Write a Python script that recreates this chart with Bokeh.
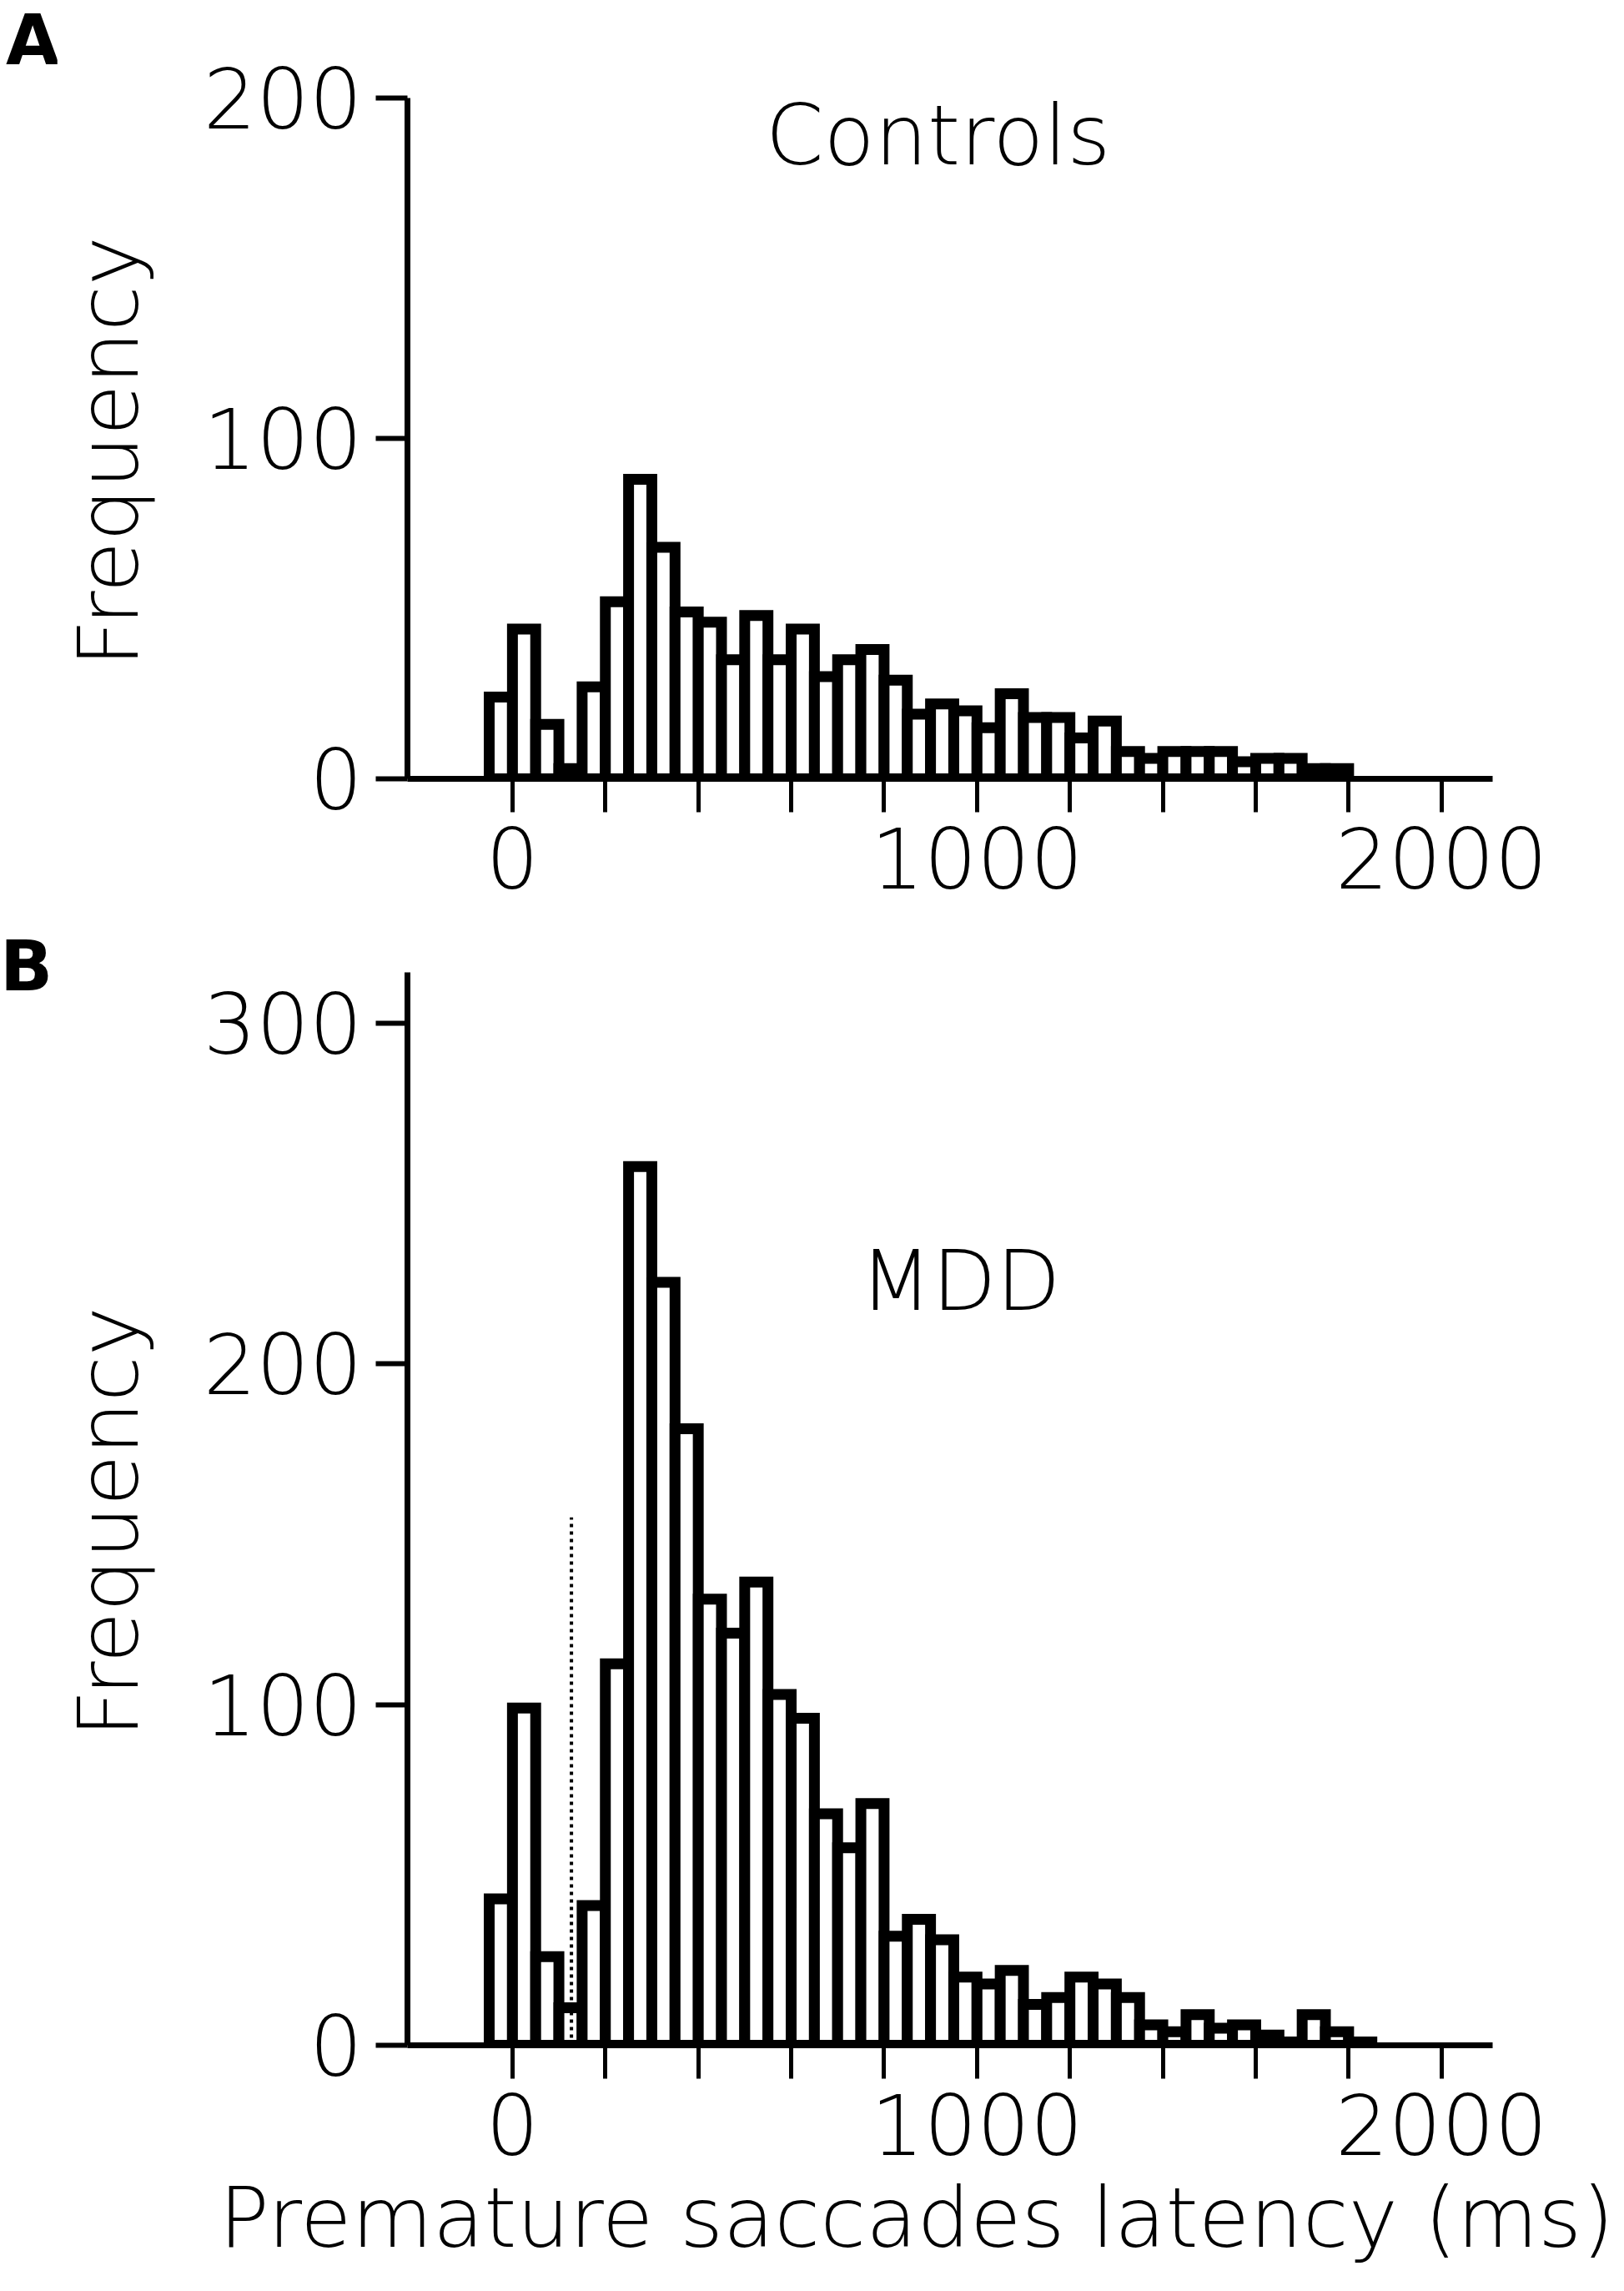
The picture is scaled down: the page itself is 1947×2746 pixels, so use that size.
from bokeh.plotting import figure
from bokeh.layouts import column, row
from bokeh.models import FixedTicker, Label, Range1d, Div, Title
from bokeh.embed import file_html
from bokeh.resources import INLINE

# ---- data ----
bin_width = 50
controls_bin_starts = list(range(-50, 1800, 50))
controls_counts = [24, 44, 16, 3, 27, 52, 88, 68, 49, 46,
                   35, 48, 35, 44, 30, 35, 38, 29, 19, 22,
                   20, 15, 25, 18, 18, 12, 17, 8, 6, 8,
                   8, 8, 5, 6, 6, 3, 3]
mdd_bin_starts = list(range(-50, 1850, 50))
mdd_counts = [43, 99, 26, 11, 41, 112, 258, 224, 181, 131,
              121, 136, 103, 96, 68, 58, 71, 32, 37, 31,
              20, 18, 22, 12, 14, 20, 18, 14, 6, 4,
              9, 5, 6, 3, 1, 9, 4, 1]
x_ticks = [0, 200, 400, 600, 800, 1000, 1200, 1400, 1600, 1800, 2000]
x_tick_labels = {t: (str(t) if t % 1000 == 0 else "") for t in x_ticks}
controls_y_ticks = [0, 100, 200]
mdd_y_ticks = [0, 100, 200, 300]
mdd_cutoff_x = 127
mdd_cutoff_top = 155
x_title = "Premature saccades latency (ms)"
y_title = "Frequency"

FONT = "DejaVu Sans"
FS = "100px"
X_RANGE = (-226, 2110)
LETTER_W = 68
PANEL_W = 1947 - LETTER_W
FRAME_LEFT = 488
FRAME_W = 1301


def letter_div(letter, height, line_height, pad_left):
    html = ('<div style="font-family:\'DejaVu Sans\'; font-size:83px; font-weight:bold; '
            'line-height:%dpx; padding-left:%dpx; color:#000; white-space:nowrap; '
            'overflow:visible; margin:0;">%s</div>' % (line_height, pad_left, letter))
    return Div(text=html, width=LETTER_W, height=height, margin=0,
               styles={"overflow": "visible"})


def make_panel(height, border_top, border_bottom, y_max, y_ticks, starts, counts):
    p = figure(width=PANEL_W, height=height, output_backend="svg", toolbar_location=None,
               title=None, x_range=Range1d(*X_RANGE), y_range=Range1d(0, y_max),
               min_border_left=FRAME_LEFT - LETTER_W,
               min_border_right=PANEL_W - (FRAME_LEFT - LETTER_W) - FRAME_W,
               min_border_top=border_top, min_border_bottom=border_bottom)
    p.outline_line_color = None
    p.xgrid.visible = False
    p.ygrid.visible = False
    p.background_fill_color = "white"
    p.border_fill_color = "white"

    p.quad(left=starts, right=[s + bin_width for s in starts], top=counts, bottom=0,
           fill_color="white", line_color="black", line_width=13, line_join="miter")

    xa = p.xaxis[0]
    xa.ticker = FixedTicker(ticks=x_ticks)
    xa.major_label_overrides = x_tick_labels
    xa.minor_tick_line_color = None
    xa.axis_line_width = 7
    xa.axis_line_color = "black"
    xa.major_tick_line_width = 5
    xa.major_tick_line_color = "black"
    xa.major_tick_out = 40
    xa.major_tick_in = 0
    xa.major_label_standoff = 18
    xa.major_label_text_font = FONT
    xa.major_label_text_font_size = FS
    xa.major_label_text_color = "black"

    ya = p.yaxis[0]
    ya.ticker = FixedTicker(ticks=y_ticks)
    ya.minor_tick_line_color = None
    ya.axis_line_width = 7
    ya.axis_line_color = "black"
    ya.major_tick_line_width = 6
    ya.major_tick_line_color = "black"
    ya.major_tick_out = 38
    ya.major_tick_in = 0
    ya.major_label_standoff = 16
    ya.major_label_orientation = "horizontal"
    ya.major_label_text_font = FONT
    ya.major_label_text_font_size = FS
    ya.major_label_text_color = "black"
    # trailing space nudges the centred label slightly downward, as in the original
    ya.axis_label = y_title + "\u00a0"
    ya.axis_label_text_font = FONT
    ya.axis_label_text_font_size = FS
    ya.axis_label_text_font_style = "normal"
    ya.axis_label_text_color = "black"
    ya.axis_label_standoff = 52
    return p


# ---- panel A ----
A_H = 1120
pA = make_panel(A_H, 117, 187, 200, controls_y_ticks, controls_bin_starts, controls_counts)
pA.add_layout(Label(x=916, y=189, text="Controls", text_font=FONT, text_font_size=FS,
                    text_color="black", text_align="center", text_baseline="middle"))
lA = letter_div("A", A_H, 97, 7)

# ---- panel B ----
B_H = 2746 - A_H
pB = make_panel(B_H, 45, B_H - 45 - 1286, 315, mdd_y_ticks, mdd_bin_starts, mdd_counts)
pB.segment(x0=[mdd_cutoff_x], y0=[0], x1=[mdd_cutoff_x], y1=[mdd_cutoff_top],
           line_color="black", line_width=4, line_dash="4 5")
pB.add_layout(Label(x=964, y=224.3, text="MDD", text_font=FONT, text_font_size=FS,
                    text_color="black", text_align="center", text_baseline="middle"))
pB.add_layout(Title(text=x_title, align="left", offset=-226, vertical_align="top",
                    standoff=28, text_font=FONT, text_font_size=FS,
                    text_font_style="normal", text_color="black"), "below")
lB = letter_div("B", B_H, 77, 0)

layout = column(row(lA, pA), row(lB, pB))
open("out.html", "w").write(file_html(layout, INLINE))
